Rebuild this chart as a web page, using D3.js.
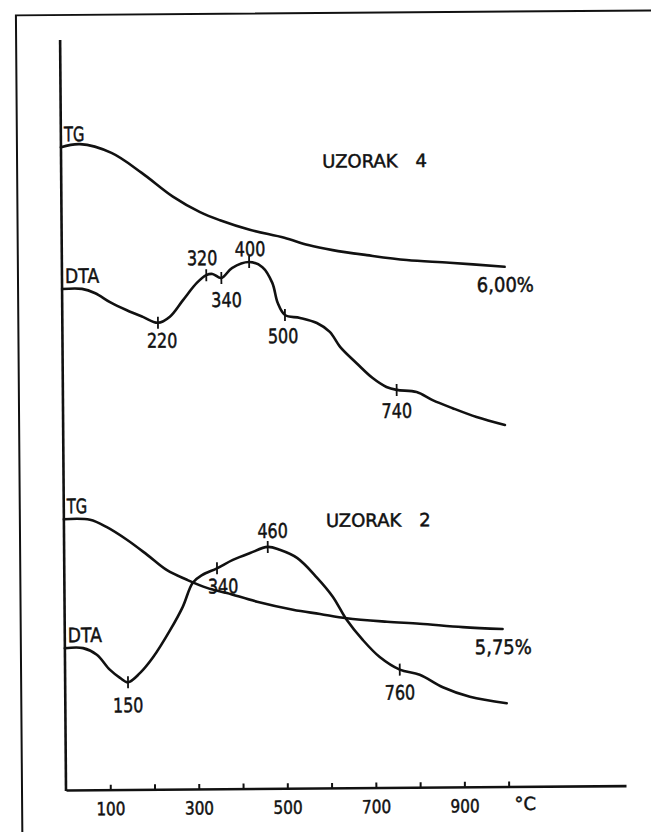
<!DOCTYPE html>
<html>
<head>
<meta charset="utf-8">
<script src="https://cdn.jsdelivr.net/npm/d3@7"></script>
<style>
html, body { margin:0; padding:0; background:#fff }
svg { display:block }
text { font-family:"DejaVu Sans", sans-serif; fill:#111; stroke:#111; stroke-width:0.5px }
</style>
</head>
<body>
<div id="graph"></div>
<script>
// temperatures in °C, deflections in % of the y-axis height
var axisEnd = 1265
var xTicks = [100, 200, 300, 400, 500, 600, 700, 800, 900, 1000]
var xTickLabels = ["100", "", "300", "", "500", "", "700", "", "900", ""]
var unitLabel = "°C"

var tg4T = [0, 43, 114, 182, 252, 313, 358, 425, 503, 557, 612, 689, 779, 876, 1000]
var tg4V = [85.7, 86.1, 84.9, 82.2, 79.0, 76.9, 75.8, 74.5, 73.4, 72.4, 71.7, 71.0, 70.3, 69.9, 69.3]

var dta4T = [0, 45, 75, 108, 146, 182, 216, 243, 273, 305, 326, 340, 360, 384, 423, 453, 475, 487, 503, 537, 575, 604, 627, 664, 700, 731, 754, 799, 835, 880, 934, 998]
var dta4V = [66.8, 66.8, 66.2, 65.0, 63.9, 63.0, 62.2, 63.0, 65.2, 67.5, 68.5, 68.65, 68.1, 69.4, 70.2, 69.5, 67.4, 64.7, 63.1, 62.7, 62.0, 60.8, 58.8, 56.6, 54.6, 53.4, 53.0, 52.7, 51.6, 50.5, 49.3, 48.2]
var dta4PeakT = [216, 326, 360, 423, 503, 754]
var dta4PeakLabels = ["220", "320", "340", "400", "500", "740"]

var tg2T = [0, 59, 97, 142, 187, 232, 277, 322, 367, 435, 516, 577, 637, 728, 802, 899, 989]
var tg2V = [36.1, 36.0, 35.0, 33.3, 31.3, 29.2, 27.9, 26.8, 26.1, 24.9, 23.8, 23.2, 22.6, 22.1, 21.8, 21.3, 21.0]

var dta2T = [0, 41, 72, 101, 124, 142, 169, 199, 238, 267, 290, 311, 345, 381, 420, 460, 487, 526, 570, 606, 637, 673, 711, 756, 801, 853, 914, 997]
var dta2V = [18.9, 18.9, 18.0, 16.0, 14.9, 14.3, 15.5, 17.6, 21.2, 24.3, 27.5, 28.5, 29.4, 30.5, 31.4, 32.2, 31.8, 30.7, 28.1, 25.5, 22.4, 19.7, 17.4, 15.7, 15.0, 13.3, 12.0, 11.1]
var dta2PeakT = [142, 345, 460, 756]
var dta2PeakLabels = ["150", "340", "460", "760"]

var sampleNames = ["UZORAK\u20034", "UZORAK\u20032"]
var sampleAt = [[590, 82.7], [592, 34.8]]
var lossLabels = ["6,00%", "5,75%"]

// layout
var width = 651, height = 832
var svg = d3.select("#graph").append("svg").attr("width", width).attr("height", height)
// the scanned sheet sits slightly askew
var plot = svg.append("g").attr("transform", "rotate(-0.45,66,790)")

var x = d3.scaleLinear().domain([0, axisEnd]).range([66, 626])
var y = d3.scaleLinear().domain([0, 100]).range([790, 40])

function label(g, str, px, py, size, sx, anchor) {
	return g.append("text")
		.attr("transform", "translate(" + [px, py] + ") scale(" + sx + ",1)")
		.attr("text-anchor", anchor || "middle")
		.style("font-size", size + "px")
		.text(str)
}
function valueAt(ts, vs, t) {
	var i = d3.bisectLeft(ts, t)
	if (i <= 0) return vs[0]
	if (i >= ts.length) return vs[vs.length - 1]
	var f = (t - ts[i - 1]) / (ts[i] - ts[i - 1])
	return vs[i - 1] + f * (vs[i] - vs[i - 1])
}

// page frame (top and left edge of the sheet)
plot.append("path")
	.attr("d", "M22,860V15H700")
	.attr("fill", "none").attr("stroke", "#111").attr("stroke-width", 2)

// axes
var xAxis = d3.axisBottom(x)
	.tickValues(xTicks)
	.tickSizeInner(-5).tickSizeOuter(0).tickPadding(12.7)
	.tickFormat(function(d, i){ return xTickLabels[i] })
var gx = plot.append("g").attr("transform", "translate(0," + y(0) + ")").call(xAxis)
gx.select(".domain").attr("stroke", "#111").attr("stroke-width", 2.6)
gx.selectAll(".tick line").attr("stroke", "#111").attr("stroke-width", 2)
gx.selectAll(".tick text")
	.attr("fill", "#111").attr("font-family", "DejaVu Sans")
	.style("font-size", "18px")
	.attr("transform", "scale(0.85,1)")
label(plot, unitLabel, x(1037), y(0) + 23.5, 18, 1)

plot.append("line")
	.attr("x1", x(0)).attr("x2", x(0))
	.attr("y1", y(0) + 1).attr("y2", y(100))
	.attr("stroke", "#111").attr("stroke-width", 2.6)

// curves
var line = d3.line()
	.x(function(d){ return x(d[0]) })
	.y(function(d){ return y(d[1]) })
	.curve(d3.curveCatmullRom.alpha(0.5))

var series = [
	{ name:"TG", t:tg4T, v:tg4V, sx:0.74, loss:lossLabels[0] },
	{ name:"DTA", t:dta4T, v:dta4V, sx:0.86, peaks:dta4PeakT, peakLabels:dta4PeakLabels,
	  offs:[[4,25],[-4,-10],[5,29],[1,-6],[-2,28],[0,28]] },
	{ name:"TG", t:tg2T, v:tg2V, sx:0.74, loss:lossLabels[1] },
	{ name:"DTA", t:dta2T, v:dta2V, sx:0.86, peaks:dta2PeakT, peakLabels:dta2PeakLabels,
	  offs:[[0,30],[6,25],[5,-9],[0,30]] }
]

series.forEach(function(s) {
	var pts = d3.zip(s.t, s.v)
	plot.append("path")
		.datum(pts)
		.attr("d", line)
		.attr("fill", "none")
		.attr("stroke", "#111")
		.attr("stroke-width", 2.6)
		.attr("stroke-linejoin", "round")
		.attr("stroke-linecap", "round")
	label(plot, s.name, x(0) + 3, y(s.v[0]) - 6, 20, s.sx, "start")
	if (s.loss) {
		var last = pts[pts.length - 1]
		label(plot, s.loss, x(last[0]) - 28, y(last[1]) + 25, 20, 0.9, "start")
	}
	if (s.peaks) {
		s.peaks.forEach(function(t, i) {
			var py = y(valueAt(s.t, s.v, t))
			plot.append("line")
				.attr("x1", x(t)).attr("x2", x(t))
				.attr("y1", py - 6).attr("y2", py + 6)
				.attr("stroke", "#111").attr("stroke-width", 1.8)
			label(plot, s.peakLabels[i], x(t) + s.offs[i][0], py + s.offs[i][1], 20, 0.8)
		})
	}
})

sampleNames.forEach(function(n, i) {
	label(plot, n, x(sampleAt[i][0]), y(sampleAt[i][1]), 18, 1, "start")
})
</script>
</body>
</html>
